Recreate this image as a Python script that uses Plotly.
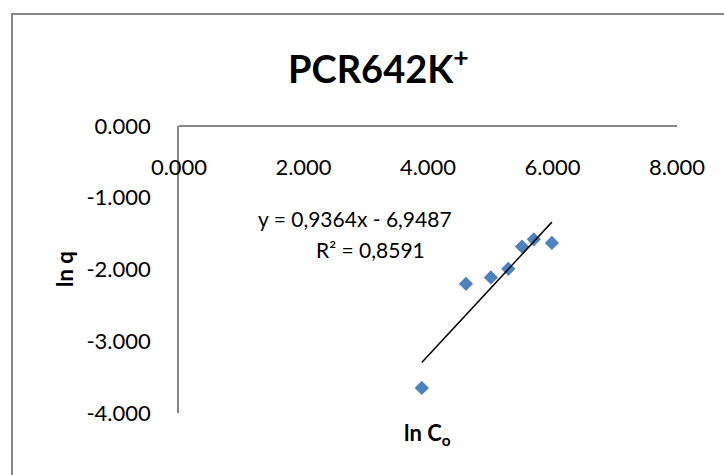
import plotly.graph_objects as go

# ---- data ----
ln_co = [3.90, 4.61, 5.01, 5.29, 5.51, 5.70, 5.99]
ln_q = [-3.65, -2.20, -2.11, -1.99, -1.68, -1.58, -1.63]
slope = 0.9364
intercept = -6.9487
x_ticks = [0, 2, 4, 6, 8]
x_tick_labels = ["0.000", "2.000", "4.000", "6.000", "8.000"]
y_ticks = [0, -1, -2, -3, -4]
y_tick_labels = ["0.000", "-1.000", "-2.000", "-3.000", "-4.000"]
title_text = "<b>PCR642K<sup>+</sup></b>"
eq_line1 = "y = 0,9364x - 6,9487"
eq_line2 = "R² = 0,8591"

W, H = 724, 475
L, R, T, B = 179, 677, 126, 413
FONT = "Lato"
GRAY = "#868686"


def px(x):
    return (x - L) / (R - L)


def py(y):
    return (B - y) / (B - T)


fig = go.Figure()

fig.add_trace(go.Scatter(
    x=ln_co, y=ln_q, mode="markers",
    marker=dict(symbol="diamond", size=11, color="#4F81BD"),
    showlegend=False, hoverinfo="skip"))

x0, x1 = min(ln_co), max(ln_co)
fig.add_trace(go.Scatter(
    x=[x0, x1], y=[slope * x0 + intercept, slope * x1 + intercept],
    mode="lines", line=dict(color="black", width=1.5),
    showlegend=False, hoverinfo="skip"))

fig.update_layout(
    width=W, height=H,
    margin=dict(l=L, r=W - R, t=T, b=H - B, pad=0),
    paper_bgcolor="white", plot_bgcolor="white",
    font=dict(family=FONT, size=22, color="black"),
    xaxis=dict(range=[0, 8], tickvals=x_ticks, ticktext=x_tick_labels,
               showgrid=False, zeroline=False, showline=True,
               linecolor=GRAY, linewidth=1.5, ticks="",
               anchor="free", position=1, side="bottom",
               ticklabelstandoff=22, tickfont=dict(size=22)),
    yaxis=dict(range=[-4, 0], tickvals=y_ticks, ticktext=y_tick_labels,
               showgrid=False, zeroline=False, showline=True,
               linecolor=GRAY, linewidth=1.5, ticks="",
               ticklabelstandoff=22, tickfont=dict(size=22)),
)

annotations = [
    dict(text=title_text, x=px(378), y=py(66), font=dict(size=38)),
    dict(text="<b>ln q</b>", x=px(64), y=py(269), textangle=-90, font=dict(size=22)),
    dict(text="<b>ln C<sub>o</sub></b>", x=px(427), y=py(434), font=dict(size=22)),
    dict(text=eq_line1, x=px(355), y=py(218), font=dict(size=21)),
    dict(text=eq_line2, x=px(370), y=py(249), font=dict(size=21)),
]
for a in annotations:
    fig.add_annotation(xref="paper", yref="paper", showarrow=False,
                       xanchor="center", yanchor="middle", **a)

fig.add_shape(type="rect", xref="paper", yref="paper",
              x0=px(12), y0=py(490), x1=px(740), y1=py(14),
              line=dict(color=GRAY, width=2), layer="below")

fig.write_html("out.html")
